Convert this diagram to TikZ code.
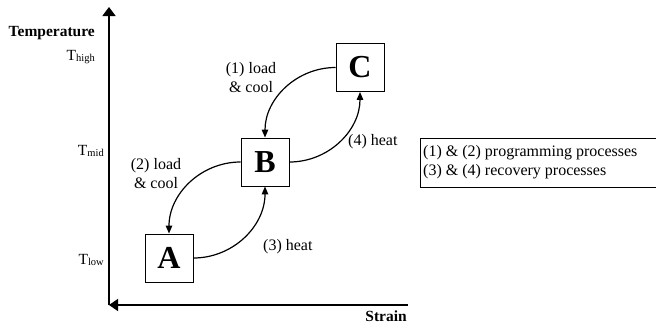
\documentclass[tikz,border=0pt]{standalone}
\usepackage{fontspec}
\setmainfont{Liberation Serif}
\usetikzlibrary{arrows.meta}
\tikzset{
  state/.style={draw, line width=0.9pt, minimum width=48pt, minimum height=48pt,
    inner sep=0pt, font=\fontsize{32}{34}\selectfont\bfseries},
  flow/.style={line width=1.2pt, -{Triangle[length=8pt,width=6.5pt]}},
  axis/.style={line width=1.5pt},
  lbl/.style={font=\fontsize{16}{19}\selectfont, align=center, inner sep=0pt},
  tick/.style={font=\fontsize{15.5}{17}\selectfont, anchor=east, inner sep=0pt},
  axtitle/.style={font=\fontsize{15.5}{17}\selectfont\bfseries, inner sep=0pt}
}
\newcommand{\subtxt}[1]{\raisebox{-0.25ex}{\fontsize{10.5}{12}\selectfont #1}}
\begin{document}
\begin{tikzpicture}[x=1pt,y=-1pt]
\useasboundingbox (0,0) rectangle (656,327);

% axes
\coordinate (O) at (109,305);
\coordinate (Ytop) at (109,7);
\coordinate (Xend) at (408,305);
\draw[axis, -{Triangle[length=9pt,width=13pt]}] (O) -- (Ytop);
\draw[axis, -{Triangle[length=9pt,width=12pt]}] (Xend) -- (O);

\node[axtitle, anchor=east] (ylab) at (95,33) {Temperature};
\node[axtitle, anchor=east] (xlab) at (407,316) {Strain};

\node[tick] (thigh) at (95,57) {T\subtxt{high}};
\node[tick] (tmid) at (104,151) {T\subtxt{mid}};
\node[tick] (tlow) at (104,260) {T\subtxt{low}};

% states
\node[state] (A) at (169,258) {A};
\node[state] (B) at (265,162) {B};
\node[state] (C) at (360,67.5) {C};

% transitions
\draw[flow] (C.west) to[out=180,in=90] (B.north);
\draw[flow] (B.east) to[out=0,in=-90] (C.south);
\draw[flow] (B.west) to[out=180,in=90] (A.north);
\draw[flow] (A.east) to[out=0,in=-90] (B.south);

\node[lbl] (l1) at (251,78) {(1) load\\\& cool};
\node[lbl] (l2) at (156,174) {(2) load\\\& cool};
\node[lbl, anchor=west] (l3) at (263,247) {(3) heat};
\node[lbl, anchor=west] (l4) at (348,142) {(4) heat};

% legend
\draw[line width=1pt] (420,138) rectangle (662,187);
\node[lbl, align=left, anchor=west] (legend) at (423,162.5)
  {(1) \& (2) programming processes\\(3) \& (4) recovery processes};
\end{tikzpicture}
\end{document}
